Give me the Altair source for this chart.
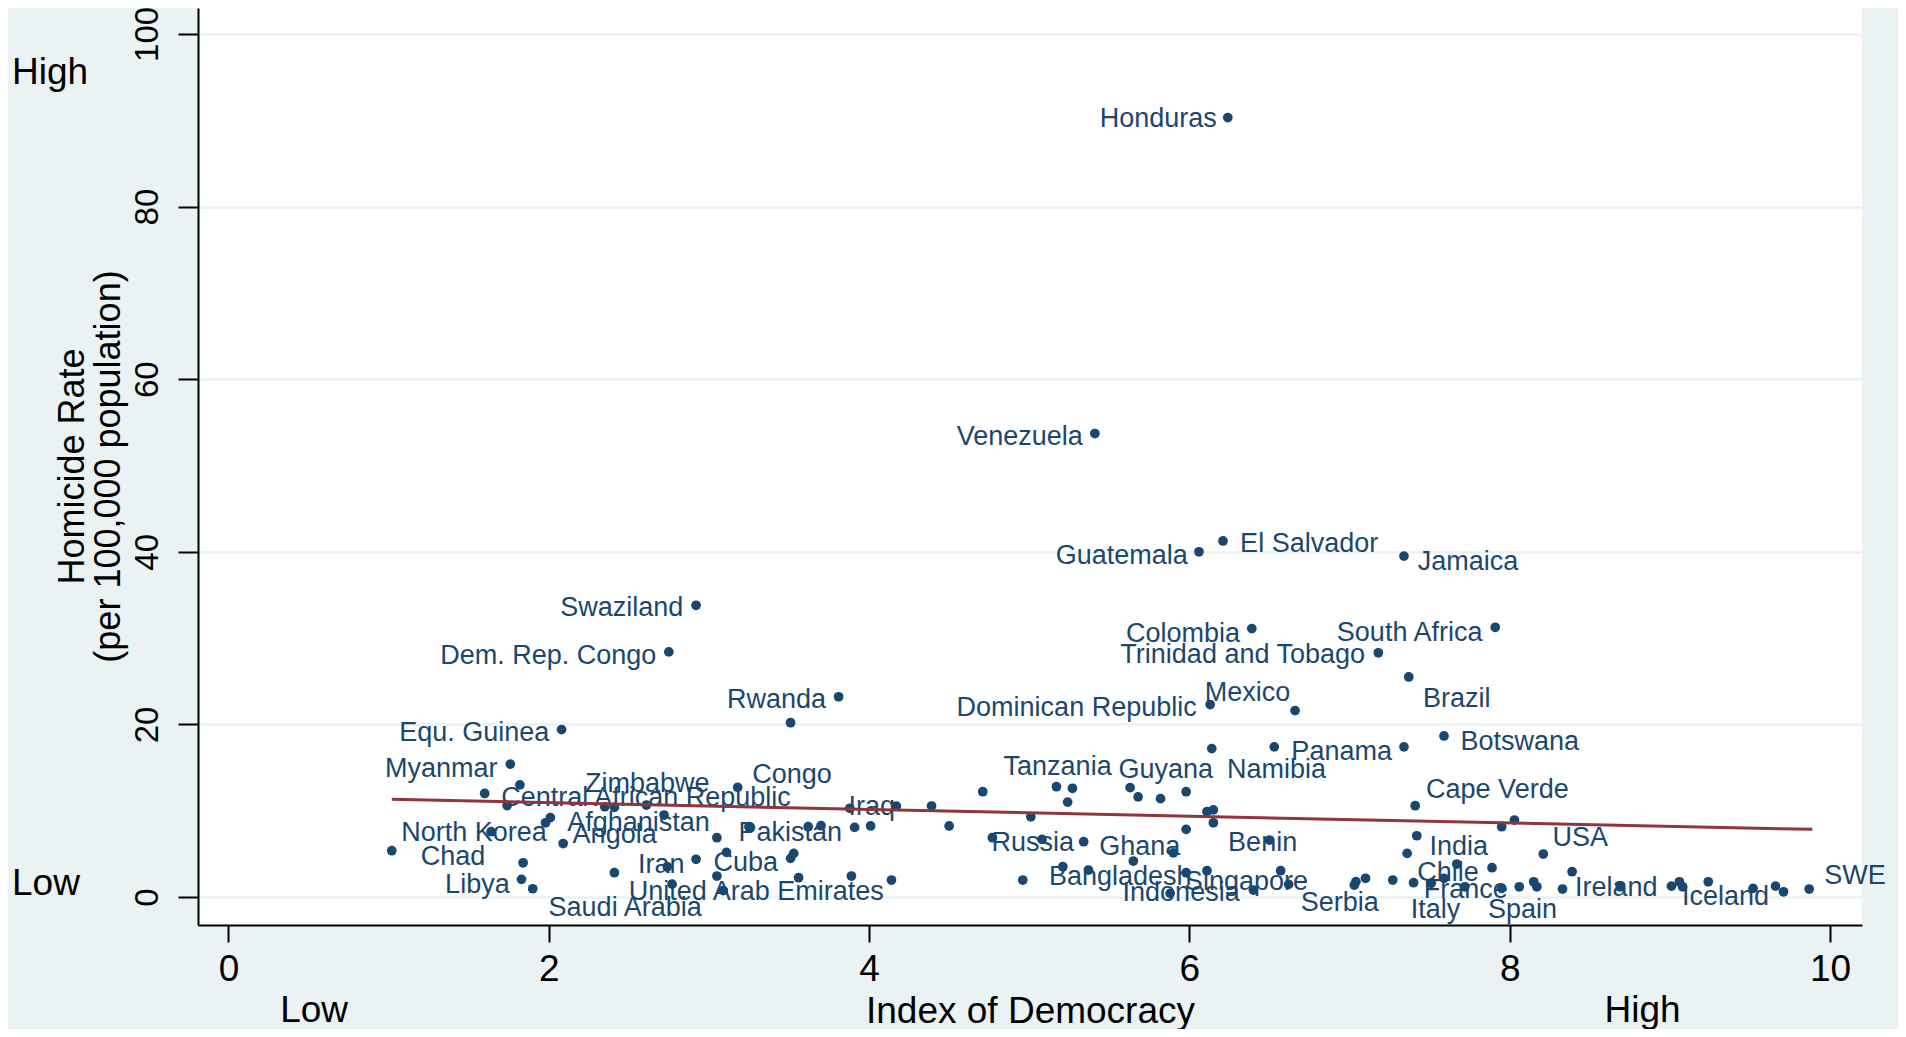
import altair as alt
import pandas as pd

# ---- data ----
democracy = [6.24, 5.41, 6.06, 6.21, 7.34, 6.39, 7.91, 7.18, 7.37, 6.13, 6.66, 7.59, 7.34, 6.14, 6.53,
             2.92, 2.75, 3.81, 3.51, 2.08, 1.76, 1.82, 1.60, 1.74, 2.01, 1.98, 1.64, 2.09, 1.02, 1.84,
             1.83, 1.90, 2.41, 2.35, 2.41, 2.61, 2.72, 3.05, 3.11, 2.92, 2.74, 2.77, 3.05, 3.09, 3.18,
             3.88, 4.17, 4.39, 4.71, 4.50, 5.01, 5.17, 5.27, 5.24, 4.77, 5.08, 5.34, 3.25, 3.62, 3.70,
             3.91, 4.01, 3.53, 3.51, 3.56, 3.89, 4.14, 4.96, 5.21, 5.37, 5.63, 5.68, 5.82, 5.98, 6.11,
             6.15, 6.15, 5.98, 5.90, 5.65, 5.98, 6.11, 5.88, 6.40, 6.57, 6.62, 6.50, 7.41, 7.42, 7.36,
             7.04, 7.10, 7.03, 7.27, 7.40, 7.51, 7.59, 7.67, 7.72, 8.03, 7.95, 8.21, 7.89, 8.39, 7.95,
             8.06, 8.15, 8.17, 8.33, 8.69, 9.01, 9.06, 9.08, 9.24, 9.52, 9.66, 9.71, 9.87]
homicide = [90.3, 53.7, 40.0, 41.25, 39.5, 31.1, 31.25, 28.3, 25.5, 22.3, 21.6, 18.66, 17.4, 17.2, 17.4,
            33.8, 28.4, 23.2, 20.2, 19.4, 15.4, 13.0, 12.0, 10.6, 9.2, 8.6, 7.57, 6.2, 5.37, 3.97,
            2.05, 0.96, 2.82, 10.46, 10.39, 10.66, 9.5, 6.87, 5.18, 4.37, 3.51, 1.5, 2.43, 0.75, 12.7,
            10.28, 10.54, 10.54, 12.2, 8.23, 9.3, 12.78, 12.6, 11.0, 6.87, 6.68, 6.41, 8.15, 8.15, 8.26,
            8.07, 8.23, 5.06, 4.48, 2.24, 2.43, 1.97, 1.97, 3.51, 3.13, 12.67, 11.6, 11.4, 12.2, 9.89,
            10.1, 8.6, 7.84, 5.13, 4.17, 2.82, 3.05, 0.43, 0.81, 3.05, 1.47, 6.6, 10.58, 7.1, 5.06,
            1.78, 2.17, 1.39, 1.97, 1.66, 1.59, 2.17, 3.82, 1.19, 8.92, 8.15, 4.98, 3.4, 2.93, 1.0,
            1.19, 1.77, 1.19, 0.93, 1.19, 1.27, 1.77, 1.19, 1.77, 1.0, 1.27, 0.61, 0.93]

# labels that sit to the left of their point (value = right end of text)
left_names = ["Honduras", "Venezuela", "Guatemala", "Colombia", "South Africa",
              "Trinidad and Tobago", "Dominican Republic", "Swaziland", "Dem. Rep. Congo",
              "Rwanda", "Equ. Guinea", "Myanmar"]
left_dem = [6.171, 5.335, 5.99, 6.317, 7.83, 7.097, 6.046, 2.84, 2.672, 3.732, 2.004, 1.68]
left_hom = [90.15, 53.34, 39.5, 30.48, 30.6, 28.04, 21.86, 33.45, 27.9, 22.8, 19.0, 14.8]

# labels that sit to the right (value = left end of text)
right_names = ["El Salvador", "Jamaica", "Mexico", "Brazil", "Botswana", "Panama", "Tanzania",
               "Guyana", "Namibia", "Zimbabwe", "Congo", "Central African Republic",
               "Afghanistan", "North Korea", "Angola", "Pakistan", "Iraq", "Chad", "Iran",
               "Cuba", "Libya", "United Arab Emirates", "Saudi Arabia", "Russia", "Ghana",
               "Benin", "Bangladesh", "Singapore", "Indonesia", "Serbia", "Cape Verde",
               "India", "USA", "Chile", "France", "Italy", "Spain", "Ireland", "Iceland", "SWE"]
right_dem = [6.317, 7.426, 6.096, 7.459, 7.693, 6.637, 4.84, 5.558, 6.235, 2.227, 3.27, 1.703,
             2.115, 1.079, 2.149, 3.185, 3.872, 1.201, 2.557, 3.029, 1.353, 2.499, 1.999, 4.765,
             5.437, 6.242, 5.123, 5.972, 5.583, 6.696, 7.478, 7.5, 8.268, 7.423, 7.463, 7.383,
             7.865, 8.408, 9.076, 9.964]
right_hom = [40.87, 38.85, 23.6, 23.0, 18.0, 16.84, 15.1, 14.7, 14.7, 13.1, 14.1, 11.44,
             8.6, 7.45, 7.18, 7.38, 10.46, 4.67, 3.71, 3.98, 1.39, 0.61, -1.31, 6.29,
             5.83, 6.22, 2.35, 1.77, 0.43, -0.73, 12.4, 5.83, 6.8, 2.82, 0.81, -1.5,
             -1.5, 1.0, 0.03, 2.43]

# fitted line end points
fit_dem = [1.02, 9.89]
fit_hom = [11.32, 7.84]

# axis annotations
x_ticks = [0, 2, 4, 6, 8, 10]
y_ticks = [0, 20, 40, 60, 80, 100]
x_end_text = ["Low", "High"]
x_end_pos = [0.535, 8.83]
y_end_text = ["High", "Low"]
y_end_pos = [95.5, 1.5]

assert len(democracy) == len(homicide)

FONT = "Liberation Sans"
NAVY = "#1a476f"
MAROON = "#90353b"
BG = "#eaf2f3"

points = pd.DataFrame({"dem": democracy, "hom": homicide})
lab_l = pd.DataFrame({"dem": left_dem, "hom": left_hom, "name": left_names})
lab_r = pd.DataFrame({"dem": right_dem, "hom": right_hom, "name": right_names})
fit = pd.DataFrame({"dem": fit_dem, "hom": fit_hom})
xend = pd.DataFrame({"t": x_end_text, "dem": x_end_pos})
yend = pd.DataFrame({"t": y_end_text, "hom": y_end_pos})

xs = alt.Scale(domain=[-0.19, 10.2], nice=False, zero=False)
ys = alt.Scale(domain=[-3.24, 103.0], nice=False, zero=False)

x_axis = alt.Axis(values=x_ticks, title="Index of Democracy", grid=False,
                  domainColor="black", domainWidth=2, tickColor="black", tickWidth=2,
                  tickSize=17, labelFontSize=37, labelColor="black", labelFont=FONT,
                  labelPadding=27, labelBaseline="middle", labelFlush=False,
                  labelOverlap=False, titleFontSize=37, titleFont=FONT,
                  titleFontWeight="normal", titleColor="black", titleY=86,
                  titleBaseline="middle")
y_axis = alt.Axis(values=y_ticks, title=["Homicide Rate", "(per 100,000 population)"],
                  grid=True, gridColor=BG, gridWidth=2.5,
                  domainColor="black", domainWidth=2, tickColor="black", tickWidth=2,
                  tickSize=20, labelFontSize=33, labelColor="black", labelFont=FONT,
                  labelAngle=270, labelAlign="center", labelBaseline="middle",
                  labelPadding=31, labelFlush=False, labelOverlap=False,
                  titleFontSize=36, titleFont=FONT, titleFontWeight="normal",
                  titleColor="black", titleAngle=270, titleAlign="center",
                  titleBaseline="middle", titleX=-126, titleY=458, titleLineHeight=36)

X = alt.X("dem:Q", scale=xs, axis=x_axis)
Y = alt.Y("hom:Q", scale=ys, axis=y_axis)

pts = alt.Chart(points).mark_circle(size=95, color=NAVY, opacity=1).encode(x=X, y=Y)

txt_l = alt.Chart(lab_l).mark_text(align="right", baseline="middle", fontSize=27,
                                   font=FONT, color=NAVY).encode(x=X, y=Y, text="name:N")
txt_r = alt.Chart(lab_r).mark_text(align="left", baseline="middle", fontSize=27,
                                   font=FONT, color=NAVY).encode(x=X, y=Y, text="name:N")

line = alt.Chart(fit).mark_line(color=MAROON, strokeWidth=3).encode(x=X, y=Y)

xlab = alt.Chart(xend).mark_text(align="center", baseline="middle", fontSize=37,
                                 font=FONT, color="black").encode(
    x=X, y=alt.value(1003), text="t:N")
ylab = alt.Chart(yend).mark_text(align="left", baseline="middle", fontSize=37,
                                 font=FONT, color="black").encode(
    x=alt.value(-186), y=Y, text="t:N")

chart = alt.layer(pts, txt_l, txt_r, line, xlab, ylab).properties(
    width=1664, height=917,
    autosize=alt.AutoSizeParams(type="none"),
    padding={"left": 190, "top": 0, "right": 36, "bottom": 104},
    background=BG,
).configure_view(fill="white", stroke=None)

chart.save("out.html", embed_options={"renderer": "svg", "actions": False})
